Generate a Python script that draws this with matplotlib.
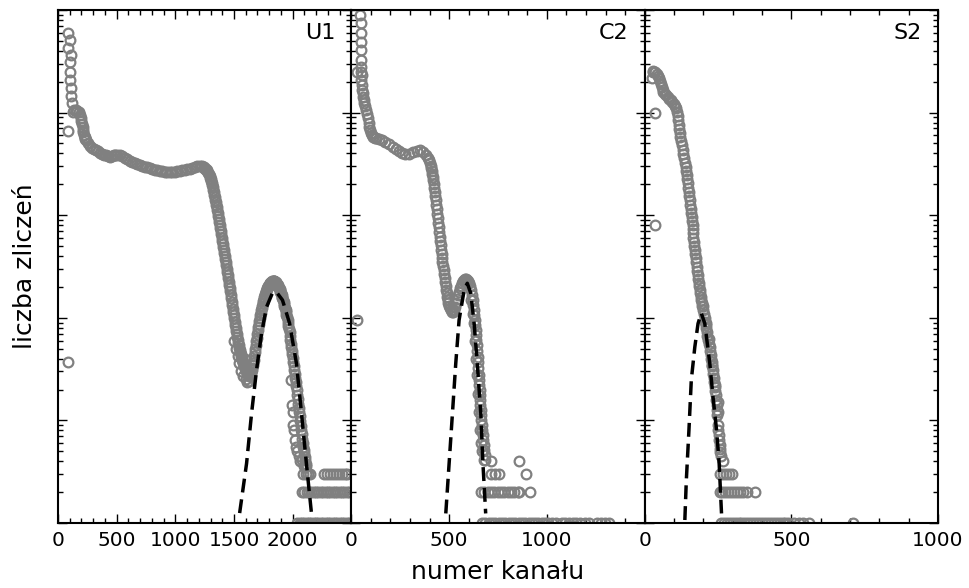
import matplotlib
matplotlib.use("Agg")
import matplotlib.pyplot as plt
from matplotlib.ticker import LogLocator, NullFormatter, MultipleLocator

# ---- U1 : channel / counts ----
u1_x = [85, 102, 85, 110, 102, 102, 102, 110, 110, 119, 85, 85,
        128, 140, 153, 165, 179, 187, 196, 204, 213, 221, 230, 238, 255, 272, 289, 306, 323, 340,
        357, 374, 391, 408, 425, 442, 460, 475, 490, 505, 527, 548, 570, 590, 612, 633, 655, 676,
        697, 718, 740, 760, 782, 803, 825, 846, 867, 888, 910, 931, 952, 973, 995, 1016, 1037,
        1058, 1080, 1100, 1122, 1143, 1165, 1186, 1207, 1224, 1241, 1255, 1267, 1280, 1292, 1300,
        1309, 1318, 1326, 1335, 1343, 1352, 1361, 1369, 1378, 1386, 1395, 1403, 1412, 1420, 1429,
        1437, 1446, 1454, 1463, 1471, 1480, 1488, 1497, 1505, 1514, 1522, 1531, 1539, 1548, 1556,
        1565, 1573, 1582, 1590, 1599, 1607, 1616, 1624, 1633, 1641, 1650, 1658, 1667, 1675, 1684,
        1692, 1701, 1709, 1718, 1726, 1735, 1743, 1752, 1760, 1769, 1777, 1786, 1795, 1803, 1811,
        1820, 1828, 1837, 1845, 1854, 1862, 1871, 1879, 1888, 1896, 1905, 1913, 1922, 1930, 1939,
        1947, 1956, 1964, 1973, 1981, 1990, 1998, 2007, 2015, 2024, 2032, 2041, 2049, 2058, 2066,
        2075, 2083, 2092, 2100, 2109, 2117,
        1500, 1515, 1530, 1545, 1560, 1580, 1600, 1615, 1630, 1605, 1590,
        1990, 1995, 2000, 2005, 2010, 2020, 2030, 2040, 2050, 2060, 2080, 2100]
u1_y = [59700, 51000, 42600, 36400, 31100, 24900, 20800, 17400, 14500, 12400, 6620, 37,
        10100, 10600, 10600, 10300, 10100, 9500, 8860, 7800, 6770, 6000, 5600, 5410, 5000, 4720,
        4500, 4400, 4320, 4200, 4040, 3950, 3900, 3860, 3760, 3690, 3750, 3860, 3900, 3880, 3860,
        3750, 3610, 3500, 3380, 3300, 3230, 3150, 3090, 3020, 2950, 2920, 2880, 2820, 2760, 2730,
        2700, 2670, 2640, 2640, 2640, 2640, 2640, 2670, 2700, 2730, 2760, 2790, 2820, 2880, 2950,
        2990, 3020, 3000, 2950, 2850, 2760, 2600, 2410, 2250, 2060, 1870, 1680, 1500, 1350, 1200,
        1050, 920, 802, 700, 600, 525, 458, 400, 350, 300, 261, 225, 195, 168, 143, 123, 106, 92,
        79.6, 70, 60.8, 54, 48.5, 44, 40.6, 37.5, 34.7, 32.8, 31.0, 29.5, 28.3, 27.5, 27.1, 28.5,
        31.0, 34.5, 38.8, 46, 54.3, 64, 76, 87, 99.5, 112, 125, 138, 152, 165, 178, 190, 200, 207,
        213, 219, 223, 226, 228, 226, 223, 217, 209, 200, 191, 180, 167, 155, 143, 131, 119, 107,
        95, 84, 72.7, 61, 51.9, 44, 37.1, 31, 25.9, 21.5, 17.7, 14.6, 12.1, 9.9, 8.05, 6.6, 5.5,
        4.8, 4.1, 3.6,
        60, 50, 42, 36, 30, 27, 25.5, 23.5, 24, 35, 40,
        25, 14, 12, 9, 8, 6.5, 5.5, 5, 4.5, 4, 4.1, 3.6]
# extra readings along the steep, dense parts of the U1 band
u1_fill_x = [200, 209, 217, 226, 234,
             1248, 1261, 1274, 1286, 1296, 1305, 1313, 1322, 1331, 1339, 1348, 1356, 1365, 1374,
             1382, 1390, 1399, 1408, 1416, 1424, 1433, 1442, 1450, 1459, 1467, 1476, 1484, 1492,
             1501, 1510, 1518, 1526, 1535, 1544, 1552, 1561, 1569, 1577, 1586, 1595, 1603, 1612,
             1620, 1628, 1637, 1646, 1654, 1662, 1671, 1680, 1688, 1696, 1705, 1713, 1722, 1730,
             1739, 1748, 1756, 1764, 1773, 1782, 1790, 1799, 1807, 1816, 1824, 1832, 1841, 1850,
             1858, 1866, 1875, 1884, 1892, 1900, 1909, 1918, 1926, 1934, 1943, 1952, 1960, 1968,
             1977, 1986, 1994, 2002, 2011, 2020, 2028, 2036, 2045, 2054, 2062, 2070, 2079, 2088,
             2096, 2104, 2113]
u1_fill_y = [8300, 7300, 6400, 5800, 5500,
             2900, 2810, 2680, 2500, 2330, 2150, 1960, 1770, 1590, 1420, 1270, 1120, 985, 860,
             750, 650, 560, 490, 428, 375, 325, 280, 242, 210, 181, 155, 133, 114, 99, 85, 75,
             65, 57, 51, 46, 42, 39, 36, 33.7, 31.9, 30.2, 28.9, 27.9, 27.3, 27.7, 29.7, 32.7,
             36.5, 42, 50, 59, 70, 81, 93, 106, 118, 131, 145, 158, 171, 184, 195, 204, 210, 216,
             221, 225, 227, 227, 225, 220, 213, 205, 196, 186, 174, 161, 149, 137, 125, 113, 101,
             90, 78, 67, 56, 48, 40.5, 34, 28.3, 23.6, 19.6, 16.1, 13.3, 11, 8.9, 7.3, 6, 5.1,
             4.4, 3.8]
u1_tail3_x = [2090, 2110, 2130, 2150, 2270, 2295, 2320, 2345, 2370, 2395, 2420, 2445, 2466]
u1_tail2_x = [2080, 2100, 2120, 2140, 2160, 2180, 2200, 2220, 2240, 2260, 2280, 2300, 2320,
              2340, 2360, 2380, 2400, 2420, 2440, 2460, 2480]
u1_tail1_x = [2040, 2060, 2080, 2100, 2120, 2140, 2160, 2180, 2200, 2220, 2240, 2260, 2280,
              2300, 2320, 2340, 2360, 2380, 2400, 2420, 2440, 2460, 2480, 2500]
u1_fit_x = [1548, 1607, 1650, 1692, 1735, 1777, 1828, 1862, 1913, 1973, 2032, 2075, 2117, 2160]
u1_fit_y = [1.25, 3.8, 11.8, 31, 71, 127, 175, 178, 149, 89, 36, 11.8, 3.8, 1.25]

# ---- C2 ----
c2_x = [46, 51, 51, 51, 51, 51, 51, 31, 51, 56, 31,
        51, 56, 61, 66, 77, 87, 92, 102, 112, 128, 143, 158, 173, 194, 214, 230, 245, 260, 276,
        296, 316, 337, 352, 367, 383, 393, 403, 408, 413, 418, 423, 429, 434, 439, 444, 449, 454,
        459, 464, 469, 474, 480, 485, 490, 495, 505, 515, 525, 536, 546, 556, 566, 577, 587, 597,
        607, 617, 622, 628, 633, 638, 643, 648, 648, 653, 658, 658, 663, 663, 668, 674, 679, 684,
        612, 620, 625, 632, 640, 645, 650, 655, 660, 665, 670, 676]
c2_y = [89400, 74700, 59700, 48700, 40700, 32600, 27800, 24900, 24900, 23200, 95,
        20800, 16600, 14200, 12400, 10600, 8860, 7240, 6320, 5780, 5650, 5530, 5410, 5160, 4940,
        4620, 4420, 4230, 4040, 3950, 3950, 4130, 4230, 4320, 4130, 3860, 3610, 3230, 2880, 2520,
        2200, 1840, 1540, 1260, 1030, 839, 686, 561, 458, 383, 320, 267, 223, 187, 160, 139, 125,
        114, 119, 139, 167, 195, 218, 233, 239, 228, 204, 167, 133, 106, 85, 68, 54, 41.5, 32.4,
        24.8, 19.8, 15.8, 12.6, 10.1, 8.06, 6.44, 5.15, 4.11,
        150, 110, 90, 60, 40, 28, 18, 12, 8, 6, 5, 4.1]
c2_fill_x = [53, 58, 63, 71, 82, 90, 97, 107, 120,
             398, 405, 410, 416, 421, 426, 431, 436, 441, 446, 452, 457, 462, 466, 472, 477, 482,
             488, 492, 500, 510, 520, 530, 541, 551, 561, 571, 582, 592, 602, 612, 620, 625, 630,
             636, 640, 645, 648, 651, 655, 658, 660, 663, 666, 671, 676, 681]
c2_fill_y = [18500, 15400, 13300, 11500, 9700, 8000, 6750, 6000, 5700,
             3420, 3050, 2700, 2350, 2010, 1680, 1400, 1140, 930, 760, 620, 507, 420, 350, 292,
             244, 204, 173, 149, 131, 119, 115, 128, 152, 180, 206, 226, 237, 235, 217, 186, 150,
             119, 95, 76, 61, 47, 37, 28, 22, 17.7, 14, 11.3, 9, 7.2, 5.7, 4.6]
c2_tail4_x = [714, 857]
c2_tail3_x = [714, 735, 755, 893]
c2_tail2_x = [663, 680, 697, 714, 731, 748, 765, 782, 799, 816, 833, 850, 857, 913]
c2_tail1_x = [668, 685, 702, 719, 736, 753, 770, 787, 804, 821, 838, 855, 872, 889, 906, 923,
              940, 957, 974, 991, 1008, 1025, 1046, 1077, 1095, 1113, 1131, 1150, 1170, 1195,
              1214, 1255, 1275, 1295, 1316]
c2_fit_x = [483, 500, 517, 534, 551, 577, 593, 611, 628, 644, 662, 673, 687]
c2_fit_y = [1.24, 3.8, 11.7, 36, 95, 187, 217, 173, 88, 36, 11.7, 3.8, 1.24]

# ---- S2 ----
s2_x = [34, 34,
        24, 27, 34, 41, 48, 55, 61, 68, 78, 89, 99, 106, 113, 116, 119, 123, 130, 133, 140, 143,
        147, 150, 154, 157, 160, 164, 164, 167, 171, 174, 177, 181, 184, 188, 191, 195, 198, 205,
        208, 212, 215, 222, 225, 229, 232, 236, 239, 242, 246, 246, 249, 253, 256, 256, 266,
        200, 210, 218, 230, 240, 250, 250]
s2_y = [9910, 802,
        21700, 24900, 24900, 23800, 21700, 19000, 16600, 15200, 14200, 13300, 12100, 11100, 9270,
        7570, 6320, 5290, 4320, 3610, 2950, 2470, 2060, 1680, 1410, 1150, 960, 802, 670, 548, 458,
        383, 313, 261, 218, 187, 160, 139, 119, 99.5, 85, 72.7, 60.8, 51.9, 43.4, 37.1, 31.0,
        25.9, 21.2, 17.7, 14.1, 11.3, 9.0, 7.2, 5.76, 4.92, 4.0,
        130, 90, 62, 35, 22, 12, 15]
s2_fill_x = [30, 44, 52, 58, 64, 73, 84, 94, 103, 110,
             115, 118, 121, 126, 131, 136, 141, 145, 148, 152, 155, 158, 162, 165, 166, 169, 172,
             176, 179, 182, 186, 189, 193, 196, 201, 206, 210, 213, 218, 223, 227, 230, 234, 237,
             240, 244, 247, 251, 254, 258, 261]
s2_fill_y = [25500, 22800, 20300, 17700, 15900, 14700, 13700, 12700, 11600, 10200,
             8400, 6900, 5800, 4800, 3950, 3260, 2700, 2250, 1860, 1540, 1270, 1050, 880, 735,
             600, 500, 420, 347, 286, 238, 202, 173, 149, 129, 109, 92, 79, 66, 56, 47.5, 40, 34,
             28.5, 23.5, 19.4, 15.8, 12.6, 8.1, 6.4, 5.3, 4.5]
s2_tail3_x = [256, 266, 276, 287, 297]
s2_tail2_x = [256, 265, 275, 285, 295, 305, 315, 325, 335, 348, 375]
s2_tail1_x = [260, 270, 280, 290, 300, 310, 320, 330, 340, 350, 360, 370, 380, 390, 400, 410,
              420, 430, 440, 450, 460, 470, 480, 490, 510, 525, 540, 560, 710]
s2_fit_x = [137, 142, 151, 159, 171, 182, 193, 205, 222, 233, 245, 254, 262]
s2_fit_y = [1.07, 2.6, 8.1, 24.8, 52, 88, 111, 88, 36, 17, 8.1, 3.8, 1.24]

panels = [
    ("U1", [(u1_x, u1_y), (u1_fill_x, u1_fill_y)],
     [(u1_tail3_x, 3), (u1_tail2_x, 2), (u1_tail1_x, 1)],
     u1_fit_x, u1_fit_y, 2500, [0, 500, 1000, 1500, 2000]),
    ("C2", [(c2_x, c2_y), (c2_fill_x, c2_fill_y)],
     [(c2_tail4_x, 4), (c2_tail3_x, 3), (c2_tail2_x, 2), (c2_tail1_x, 1)],
     c2_fit_x, c2_fit_y, 1500, [0, 500, 1000]),
    ("S2", [(s2_x, s2_y), (s2_fill_x, s2_fill_y)],
     [(s2_tail3_x, 3), (s2_tail2_x, 2), (s2_tail1_x, 1)],
     s2_fit_x, s2_fit_y, 1000, [0, 500, 1000]),
]

marker_kw = dict(linestyle="none", marker="o", mfc="none", mec="#808080", ms=7, mew=1.6)

fig, axes = plt.subplots(1, 3, sharey=True, figsize=(9.7, 5.88), dpi=100)
fig.subplots_adjust(left=0.0598, right=0.967, bottom=0.1105, top=0.983, wspace=0)

for ax, (name, series, tails, fx, fy, xmax, xticks) in zip(axes, panels):
    for x, y in series:
        ax.plot(x, y, **marker_kw)
    for tx, level in tails:
        ax.plot(tx, [level] * len(tx), **marker_kw)
    ax.plot(fx, fy, color="black", lw=2.5, linestyle=(0, (4, 2)), zorder=5)
    ax.set_yscale("log")
    ax.set_ylim(1, 1e5)
    ax.set_xlim(0, xmax)
    ax.set_xticks(xticks)
    ax.xaxis.set_minor_locator(MultipleLocator(100))
    ax.yaxis.set_major_locator(LogLocator(base=10))
    ax.yaxis.set_minor_locator(LogLocator(base=10, subs=range(2, 10), numticks=20))
    ax.yaxis.set_major_formatter(NullFormatter())
    ax.yaxis.set_minor_formatter(NullFormatter())
    ax.tick_params(which="both", direction="in", top=True, right=True, width=1,
                   labelsize=14.5, pad=6)
    ax.tick_params(which="major", length=6.5)
    ax.tick_params(which="minor", length=3.5)
    for s in ax.spines.values():
        s.set_linewidth(1.5)
    ax.text(0.945, 0.975, name, transform=ax.transAxes, ha="right", va="top", fontsize=16)

fig.text(0.513, 0.028, "numer kanału", ha="center", va="center", fontsize=18)
fig.text(0.026, 0.547, "liczba zliczeń", ha="center", va="center", rotation=90, fontsize=18)

fig.savefig("out.png", dpi=100)
